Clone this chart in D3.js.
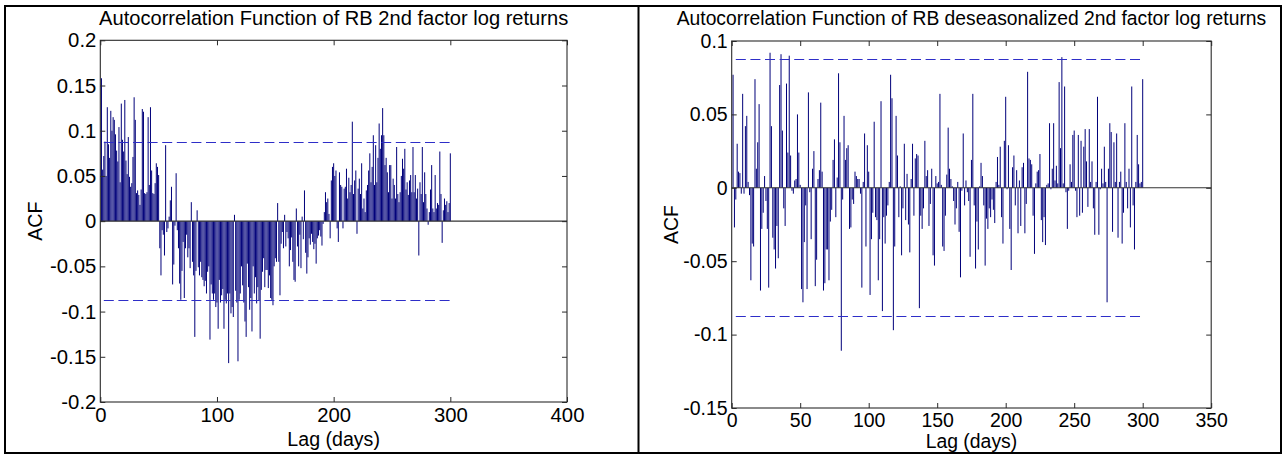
<!DOCTYPE html>
<html>
<head>
<meta charset="utf-8">
<script src="https://cdn.jsdelivr.net/npm/d3@7"></script>
<style>
  html, body { margin: 0; padding: 0; background: #fff; }
  svg { display: block; }
  text { font-family: "Liberation Sans", Arial, Helvetica, sans-serif; fill: #000; }
</style>
</head>
<body>
<svg id="fig" width="1285" height="456"></svg>
<script>
// Sample autocorrelations, lags 1..300
const lags = d3.range(1, 301);

// RB 2nd factor log returns
const acfRaw = [
  0.158, 0.057, 0.072, 0.088, 0.050, 0.126, 0.085, 0.070, 0.122, 0.100,
  0.115, 0.112, 0.096, 0.078, 0.066, 0.104, 0.043, 0.130, 0.090, 0.077,
  0.134, 0.067, 0.052, 0.093, 0.049, 0.038, 0.042, 0.071, 0.137, 0.112,
  0.031, 0.034, 0.029, 0.018, 0.035, 0.124, 0.121, 0.031, 0.030, 0.032,
  0.115, 0.040, 0.126, 0.056, 0.031, 0.030, 0.042, 0.064, 0.060, 0.051,
  -0.030, -0.060, -0.010, -0.015, -0.038, 0.084, -0.012, -0.008, 0.005, 0.023,
  0.038, -0.070, -0.048, -0.005, 0.053, -0.010, -0.030, -0.069, -0.087, -0.055,
  -0.023, -0.085, -0.030, -0.015, -0.040, -0.030, -0.052, 0.021, -0.045, -0.060,
  -0.128, -0.055, 0.012, -0.051, -0.060, -0.045, -0.062, -0.065, -0.072, -0.066,
  -0.080, -0.056, -0.050, -0.131, -0.070, -0.080, -0.087, -0.080, -0.095, -0.090,
  -0.119, -0.065, -0.090, -0.082, -0.075, -0.119, -0.087, -0.091, -0.080, -0.157,
  -0.080, -0.102, -0.095, -0.106, 0.007, -0.077, -0.090, -0.155, -0.087, -0.080,
  -0.050, -0.071, -0.090, -0.111, -0.128, -0.047, -0.073, -0.098, -0.085, -0.122,
  -0.050, -0.080, -0.062, -0.091, -0.073, -0.088, -0.130, -0.076, -0.056, -0.041,
  -0.073, -0.054, -0.054, -0.074, -0.060, -0.085, -0.087, -0.093, -0.050, -0.041,
  -0.045, 0.020, -0.045, -0.082, -0.025, -0.012, -0.030, 0.007, -0.028, -0.012,
  -0.019, -0.050, -0.032, -0.018, -0.045, -0.065, -0.067, 0.014, -0.028, -0.050,
  -0.015, -0.052, 0.005, -0.020, 0.034, -0.035, -0.058, -0.040, -0.019, -0.026,
  -0.014, -0.023, -0.031, -0.025, -0.047, -0.019, -0.016, -0.010, -0.017, -0.027,
  -0.003, 0.010, 0.032, 0.021, 0.025, 0.008, -0.019, 0.045, 0.060, 0.064,
  0.050, 0.056, -0.008, -0.023, 0.054, 0.040, 0.038, -0.008, 0.036, 0.038,
  0.058, 0.025, 0.048, 0.032, 0.040, 0.110, 0.030, 0.045, 0.056, -0.014,
  0.036, 0.047, 0.030, 0.064, 0.014, 0.025, 0.010, 0.034, 0.040, 0.056,
  0.075, 0.043, 0.060, 0.095, 0.040, 0.084, 0.043, 0.070, 0.108, 0.080,
  0.095, 0.125, 0.095, 0.062, 0.070, 0.054, 0.032, 0.062, 0.062, 0.025,
  0.047, 0.040, 0.025, 0.082, 0.030, 0.021, 0.032, 0.050, 0.069, 0.058,
  0.080, 0.035, 0.043, 0.029, 0.045, 0.051, 0.032, 0.082, 0.032, 0.051,
  0.025, 0.036, -0.038, 0.043, 0.030, 0.082, 0.021, 0.054, 0.030, 0.014,
  -0.004, 0.010, 0.035, 0.062, 0.014, 0.010, 0.051, 0.014, 0.020, 0.018,
  0.077, 0.030, -0.024, 0.012, 0.025, 0.018, 0.022, 0.010, 0.020, 0.075
];

// RB deseasonalized 2nd factor log returns
const acfDeseason = [
  0.077, -0.027, -0.008, 0.030, 0.011, 0.010, -0.004, 0.064, -0.004, 0.042,
  0.049, 0.004, -0.005, -0.063, -0.038, -0.040, 0.074, 0.013, 0.031, 0.057,
  -0.070, -0.028, -0.017, 0.008, -0.009, -0.028, -0.068, 0.092, 0.042, -0.034,
  -0.042, -0.055, -0.026, -0.048, 0.070, 0.091, 0.039, -0.014, -0.026, 0.071,
  0.024, 0.090, 0.022, -0.002, -0.004, 0.005, 0.006, 0.050, 0.024, 0.002,
  -0.069, -0.078, -0.037, -0.012, -0.069, 0.065, -0.003, -0.035, 0.013, 0.025,
  -0.067, -0.049, 0.006, 0.012, 0.058, 0.011, -0.070, -0.065, -0.042, -0.042,
  -0.063, -0.023, -0.015, 0.019, 0.033, -0.020, 0.007, 0.078, 0.031, -0.111,
  -0.008, 0.049, 0.019, 0.027, 0.029, -0.028, -0.027, -0.008, -0.011, 0.011,
  0.008, 0.006, 0.006, -0.004, -0.068, 0.004, 0.037, -0.040, 0.029, 0.011,
  -0.073, -0.035, -0.017, 0.045, -0.020, -0.022, -0.063, -0.035, 0.059, -0.084,
  -0.020, -0.038, -0.019, -0.012, 0.004, 0.077, 0.061, -0.097, -0.040, 0.049,
  0.022, -0.020, 0.001, -0.046, -0.014, 0.030, -0.022, 0.0095, -0.025, -0.044,
  0.006, 0.030, -0.019, 0.020, 0.023, 0.022, -0.082, -0.019, -0.028, -0.014,
  0.032, 0.008, 0.012, -0.026, -0.011, 0.013, -0.046, -0.053, 0.008, 0.003,
  0.004, 0.064, 0.002, -0.040, -0.043, -0.019, 0.009, 0.041, 0.013, 0.006,
  0.001, -0.009, -0.025, -0.014, 0.004, -0.030, -0.061, -0.002, 0.037, -0.012,
  0.005, -0.003, -0.009, -0.047, 0.019, 0.064, -0.012, -0.055, -0.023, -0.042,
  0.001, 0.017, 0.008, -0.012, -0.053, -0.021, -0.028, -0.014, -0.020, -0.008,
  -0.015, -0.024, 0.004, 0.021, 0.002, 0.028, -0.020, -0.038, 0.032, 0.062,
  -0.001, 0.029, -0.028, -0.056, 0.014, 0.022, -0.012, 0.012, -0.031, 0.005,
  -0.026, 0.014, 0.017, -0.031, -0.011, 0.079, 0.020, 0.019, 0.016, -0.019,
  -0.045, 0.003, 0.011, 0.012, 0.023, -0.022, -0.037, -0.020, -0.039, 0.002,
  0.003, 0.044, -0.001, 0.013, 0.044, 0.005, 0.015, 0.003, 0.072, 0.027,
  0.089, 0.003, 0.069, -0.003, -0.028, -0.002, 0.016, 0.004, 0.036, 0.039,
  -0.002, -0.020, 0.036, -0.019, 0.032, -0.017, 0.028, 0.040, 0.018, -0.013,
  0.040, 0.004, 0.018, -0.014, -0.032, 0.004, 0.062, -0.032, -0.001, 0.013,
  0.003, 0.028, 0.004, -0.078, 0.013, 0.044, 0.038, -0.030, 0.031, 0.004,
  0.037, -0.034, 0.004, 0.011, -0.038, -0.017, 0.044, 0.004, -0.014, 0.013,
  -0.027, 0.069, -0.012, -0.042, 0.004, 0.036, 0.016, 0.003, 0.004, 0.074
];

// Approximate 95% confidence bound and the lag span it is drawn over
const confBound = 0.0874;
const boundSpan = [3, 300];

// Axis ticks
const xTicksRaw = [0, 100, 200, 300, 400];
const yTicksRaw = [-0.2, -0.15, -0.1, -0.05, 0, 0.05, 0.1, 0.15, 0.2];
const xTicksDeseason = [0, 50, 100, 150, 200, 250, 300, 350];
const yTicksDeseason = [-0.15, -0.1, -0.05, 0, 0.05, 0.1];

const titles = [
  "Autocorrelation Function of RB 2nd factor log returns",
  "Autocorrelation Function of RB deseasonalized 2nd factor log returns"
];
const xLabel = "Lag (days)";
const yLabel = "ACF";

const svg = d3.select("#fig");
svg.append("rect").attr("width", 1285).attr("height", 456).attr("fill", "#fff");

const fmt = v => String(+v.toFixed(2));

const panels = [
  { title: titles[0], values: acfRaw, xTicks: xTicksRaw, yTicks: yTicksRaw,
    xDom: [0, 400], yDom: [-0.2, 0.2],
    box: { x0: 100.3, x1: 567, y0: 40.3, y1: 402 },
    titleSize: 20.1, tickSize: 20.3, labelSize: 19.6,
    titleY: 25, xLabY: 446, yLabX: 42 },
  { title: titles[1], values: acfDeseason, xTicks: xTicksDeseason, yTicks: yTicksDeseason,
    xDom: [0, 350], yDom: [-0.15, 0.1],
    box: { x0: 731.7, x1: 1211.2, y0: 41, y1: 408 },
    titleSize: 19.3, tickSize: 19.5, labelSize: 19.4,
    titleY: 25, xLabY: 447.5, yLabX: 678 }
];

const stemColor = "#00007a";
const boundColor = "#2e2ec8";
const axisColor = "#2a2a2a";
const tickLen = 5;

panels.forEach(p => {
  const b = p.box;
  const x = d3.scaleLinear().domain(p.xDom).range([b.x0, b.x1]);
  const y = d3.scaleLinear().domain(p.yDom).range([b.y1, b.y0]);
  const g = svg.append("g");

  // stems
  g.append("g").selectAll("line")
    .data(lags.map((l, i) => [l, p.values[i]]))
    .join("line")
    .attr("x1", d => x(d[0])).attr("x2", d => x(d[0]))
    .attr("y1", y(0)).attr("y2", d => y(d[1]))
    .attr("stroke", stemColor).attr("stroke-width", 1);

  // zero line
  g.append("line")
    .attr("x1", x(p.xDom[0])).attr("x2", x(p.xDom[1]))
    .attr("y1", y(0)).attr("y2", y(0))
    .attr("stroke", "#333").attr("stroke-width", 1.1);

  // confidence bounds (snapped to the pixel grid so the dashes stay crisp)
  [confBound, -confBound].forEach(v => {
    const yy = Math.floor(y(v)) + 0.5;
    g.append("line")
      .attr("x1", x(boundSpan[0])).attr("x2", x(boundSpan[1]))
      .attr("y1", yy).attr("y2", yy)
      .attr("stroke", boundColor).attr("stroke-width", 1.2)
      .attr("stroke-dasharray", "10,4.6");
  });

  // axes with inward ticks
  const fs = p.tickSize + "px";
  const left = g.append("g").attr("transform", `translate(${b.x0},0)`)
    .call(d3.axisLeft(y).tickValues(p.yTicks).tickFormat(fmt)
      .tickSizeInner(-tickLen).tickSizeOuter(0).tickPadding(4));
  const right = g.append("g").attr("transform", `translate(${b.x1},0)`)
    .call(d3.axisRight(y).tickValues(p.yTicks).tickFormat("")
      .tickSizeInner(-tickLen).tickSizeOuter(0));
  const bottom = g.append("g").attr("transform", `translate(0,${b.y1})`)
    .call(d3.axisBottom(x).tickValues(p.xTicks).tickFormat(d => String(d))
      .tickSizeInner(-tickLen).tickSizeOuter(0).tickPadding(4.5));
  const top = g.append("g").attr("transform", `translate(0,${b.y0})`)
    .call(d3.axisTop(x).tickValues(p.xTicks).tickFormat("")
      .tickSizeInner(-tickLen).tickSizeOuter(0));
  [left, right, bottom, top].forEach(a => {
    a.select(".domain").remove();
    a.selectAll(".tick line").attr("stroke", axisColor);
    a.selectAll("text")
      .style("font-family", '"Liberation Sans", Arial, sans-serif')
      .style("font-size", fs).attr("fill", "#000");
  });
  bottom.selectAll("text").attr("dy", "0.74em");

  // box
  g.append("rect")
    .attr("x", b.x0).attr("y", b.y0)
    .attr("width", b.x1 - b.x0).attr("height", b.y1 - b.y0)
    .attr("fill", "none").attr("stroke", axisColor).attr("stroke-width", 1.1);

  // title and labels
  const cx = (b.x0 + b.x1) / 2;
  g.append("text").attr("x", cx).attr("y", p.titleY)
    .attr("text-anchor", "middle").style("font-size", p.titleSize + "px").text(p.title);
  g.append("text").attr("x", cx).attr("y", p.xLabY)
    .attr("text-anchor", "middle").style("font-size", p.labelSize + "px").text(xLabel);
  g.append("text")
    .attr("transform", `translate(${p.yLabX},${(b.y0 + b.y1) / 2}) rotate(-90)`)
    .attr("text-anchor", "middle").style("font-size", p.labelSize + "px").text(yLabel);
});

// surrounding frame with a divider between the two figures
const frame = svg.append("g").attr("fill", "none").attr("stroke", "#000").attr("stroke-width", 2);
frame.append("rect").attr("x", 5).attr("y", 6).attr("width", 1276).attr("height", 447);
frame.append("line").attr("x1", 638.5).attr("x2", 638.5).attr("y1", 6).attr("y2", 453);
</script>
</body>
</html>
